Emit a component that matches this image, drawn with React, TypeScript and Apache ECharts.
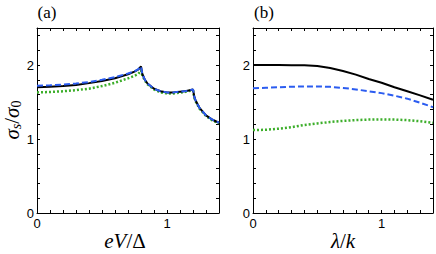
import React, { useEffect, useRef } from "react";
import * as echarts from "echarts";

// Panel (a): sigma_s/sigma_0 vs eV/Delta
const aX = [0, 0.1, 0.2, 0.3, 0.4, 0.5, 0.6, 0.7, 0.75, 0.78, 0.8, 0.81, 0.83, 0.85, 0.9, 0.95, 1.0, 1.05, 1.1, 1.15, 1.2, 1.21, 1.22, 1.25, 1.3, 1.35, 1.4];
const aBlack = [1.70, 1.705, 1.715, 1.73, 1.755, 1.785, 1.82, 1.875, 1.91, 1.94, 1.98, 1.88, 1.80, 1.75, 1.68, 1.645, 1.63, 1.63, 1.64, 1.65, 1.67, 1.57, 1.52, 1.42, 1.32, 1.26, 1.22];
const aBlue = [1.72, 1.725, 1.735, 1.75, 1.77, 1.80, 1.835, 1.885, 1.915, 1.945, 1.98, 1.88, 1.80, 1.75, 1.68, 1.645, 1.63, 1.63, 1.64, 1.65, 1.67, 1.57, 1.52, 1.42, 1.32, 1.26, 1.22];
const aGreen = [1.63, 1.635, 1.645, 1.66, 1.68, 1.715, 1.76, 1.82, 1.855, 1.88, 1.93, 1.86, 1.79, 1.74, 1.67, 1.63, 1.615, 1.615, 1.625, 1.64, 1.66, 1.56, 1.51, 1.41, 1.31, 1.25, 1.21];

// Panel (b): sigma_s/sigma_0 vs lambda/k
const bX = [0, 0.1, 0.2, 0.3, 0.4, 0.5, 0.6, 0.7, 0.8, 0.9, 1.0, 1.1, 1.2, 1.3, 1.4];
const bBlack = [2.0, 2.0, 2.0, 1.998, 1.995, 1.985, 1.96, 1.92, 1.87, 1.81, 1.76, 1.70, 1.645, 1.59, 1.53];
const bBlue = [1.685, 1.693, 1.70, 1.706, 1.71, 1.71, 1.705, 1.69, 1.67, 1.645, 1.62, 1.585, 1.545, 1.49, 1.43];
const bGreen = [1.12, 1.125, 1.14, 1.16, 1.19, 1.21, 1.23, 1.245, 1.255, 1.262, 1.265, 1.263, 1.255, 1.24, 1.22];

const xTickLabels = ["0", "1"];
const yTickLabels = ["0", "1", "2"];

const BLUE = "#2b5cf0";
const GREEN = "#3cae2a";

function pairs(xs: number[], ys: number[]) {
  return xs.map((x, i) => [x, ys[i]]);
}

function isInt(v: number) {
  return Math.abs(v - Math.round(v)) < 1e-6;
}

export default function App() {
  const ref = useRef<HTMLDivElement>(null);
  useEffect(() => {
    if (!ref.current) return;
    const chart = echarts.init(ref.current, null, { renderer: "svg" });
    const grids = [
      { left: 37, top: 28, width: 182, height: 185 },
      { left: 253, top: 28, width: 182, height: 185 },
    ];
    const tickFont = { fontFamily: "Liberation Sans", fontSize: 13, color: "#000" };
    const line = { onZero: false, lineStyle: { color: "#000", width: 1 } };
    const tick = { inside: true, length: 3, lineStyle: { color: "#000" } };
    const xAxes: any[] = [];
    const yAxes: any[] = [];
    [0, 1].forEach((g) => {
      xAxes.push({
        type: "value", gridIndex: g, min: 0, max: 1.4, interval: 0.1, position: "bottom",
        axisLine: line, axisTick: tick, splitLine: { show: false },
        axisLabel: {
          ...tickFont, margin: 4,
          formatter: (v: number) => (isInt(v) ? xTickLabels[Math.round(v)] ?? "" : ""),
        },
      });
      xAxes.push({
        type: "value", gridIndex: g, min: 0, max: 1.4, interval: 0.1, position: "top",
        axisLine: line, axisTick: tick, splitLine: { show: false }, axisLabel: { show: false },
      });
      yAxes.push({
        type: "value", gridIndex: g, min: 0, max: 2.5, interval: 0.2, position: "left",
        axisLine: line, axisTick: tick, splitLine: { show: false },
        axisLabel: {
          ...tickFont, margin: 3,
          formatter: (v: number) => (isInt(v) ? yTickLabels[Math.round(v)] ?? "" : ""),
        },
      });
      yAxes.push({
        type: "value", gridIndex: g, min: 0, max: 2.5, interval: 0.2, position: "right",
        axisLine: line, axisTick: tick, splitLine: { show: false }, axisLabel: { show: false },
      });
    });
    const mk = (xi: number, yi: number, data: number[][], color: string, type: any, width: number) => ({
      type: "line", xAxisIndex: xi, yAxisIndex: yi, data, showSymbol: false, symbol: "none",
      smooth: false, lineStyle: { color, type, width }, clip: true,
    });
    const rich = {
      i: { fontFamily: "Liberation Serif", fontStyle: "italic", fontSize: 21, color: "#000" },
      s: { fontFamily: "Liberation Serif", fontStyle: "italic", fontSize: 14, color: "#000", padding: [9, 0, 0, 0] },
      n: { fontFamily: "Liberation Serif", fontSize: 14, color: "#000", padding: [9, 0, 0, 0] },
      u: { fontFamily: "Liberation Serif", fontSize: 21, color: "#000" },
      p: { fontFamily: "Liberation Serif", fontSize: 17, color: "#000" },
    };
    chart.setOption({
      animation: false,
      grid: grids.map((g) => ({ ...g, show: false })),
      xAxis: xAxes,
      yAxis: yAxes,
      series: [
        mk(0, 0, pairs(aX, aGreen), GREEN, [2, 2], 2.5),
        mk(0, 0, pairs(aX, aBlack), "#000", "solid", 2),
        mk(0, 0, pairs(aX, aBlue), BLUE, [6, 3], 2),
        mk(2, 2, pairs(bX, bBlack), "#000", "solid", 2),
        mk(2, 2, pairs(bX, bBlue), BLUE, [6, 3], 2),
        mk(2, 2, pairs(bX, bGreen), GREEN, [2, 2], 2.5),
      ],
      graphic: [
        {
          type: "text", x: 47, y: 12,
          style: { text: "{p|(a)}", rich, align: "center", verticalAlign: "middle" },
        },
        {
          type: "text", x: 264, y: 12,
          style: { text: "{p|(b)}", rich, align: "center", verticalAlign: "middle" },
        },
        {
          type: "text", x: 125, y: 241,
          style: { text: "{i|eV}{u|/Δ}", rich, align: "center", verticalAlign: "middle" },
        },
        {
          type: "text", x: 343, y: 241,
          style: { text: "{i|λ}{u|/}{i|k}", rich, align: "center", verticalAlign: "middle" },
        },
        {
          type: "text", x: 12, y: 120, rotation: Math.PI / 2,
          style: { text: "{i|σ}{s|s}{u|/}{i|σ}{n|0}", rich, align: "center", verticalAlign: "middle" },
        },
      ],
    });
    return () => chart.dispose();
  }, []);
  return (
    <div
      ref={ref}
      style={{ position: "fixed", left: 0, top: 0, width: 436, height: 254, background: "#fff" }}
    />
  );
}
